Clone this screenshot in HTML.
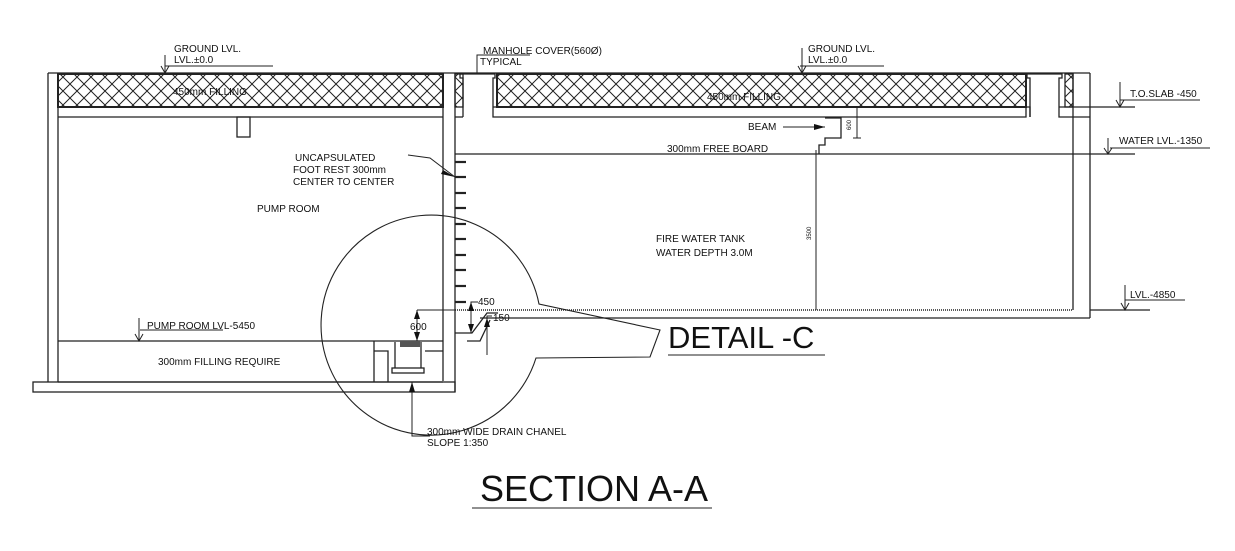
<!DOCTYPE html>
<html><head><style>
html,body{margin:0;padding:0;background:#fff;}
svg{display:block;}
text{font-family:"Liberation Sans",Arial,sans-serif;fill:#111;}
</style></head><body>
<svg width="1235" height="551" viewBox="0 0 1235 551" xmlns="http://www.w3.org/2000/svg">
<defs>
<pattern id="x" width="14" height="14" patternUnits="userSpaceOnUse">
<path d="M0 0L14 14M14 0L0 14" stroke="#222" stroke-width="1"/>
</pattern>
</defs>
<g stroke="#222" stroke-width="1.3" fill="none">
<line x1="48" y1="73" x2="1090" y2="73"/>
<rect x="58" y="74" width="385" height="33" fill="url(#x)" stroke-width="2"/>
<rect x="455" y="74" width="8" height="33" fill="url(#x)"/>
<rect x="497" y="74" width="529" height="33" fill="url(#x)" stroke-width="2"/>
<rect x="1065" y="74" width="8" height="33" fill="url(#x)"/>
<line x1="48" y1="73" x2="48" y2="382"/>
<line x1="58" y1="107" x2="58" y2="382"/>
<line x1="58" y1="117" x2="443" y2="117"/>
<line x1="58" y1="107" x2="443" y2="107"/>
<rect x="237" y="117" width="13" height="20"/>
<line x1="443" y1="73" x2="443" y2="381"/>
<line x1="455" y1="73" x2="455" y2="392"/>
<polyline points="463,117 463,78 460,78 460,74 495,74 495,78 493,78 493,117 497,117 1026,117 1026,107"/>
<line x1="455" y1="117" x2="463" y2="117"/>
<line x1="493" y1="107" x2="497" y2="107"/>
<polyline points="1026,107 1030,107 1030,117"/>
<polyline points="1030,117 1030,78 1027,78 1027,74 1062,74 1062,78 1059,78 1059,117 1090,117"/>
<line x1="1059" y1="107" x2="1090" y2="107"/>
<line x1="1073" y1="73" x2="1073" y2="310"/>
<line x1="1090" y1="73" x2="1090" y2="318"/>
<polyline points="825,118 841,118 841,138 825,138 825,145 819,145 819,154"/>
<line x1="857" y1="107" x2="857" y2="138" stroke-width="1"/>
<line x1="853" y1="138" x2="861" y2="138" stroke-width="1"/>
<line x1="455" y1="154" x2="1090" y2="154"/>
<line x1="816" y1="150" x2="816" y2="310" stroke-width="1"/>
<line x1="455" y1="310" x2="1073" y2="310" stroke-dasharray="1 1" stroke-width="1.6"/>
<line x1="480" y1="318" x2="1090" y2="318"/>
<line x1="58" y1="341" x2="443" y2="341"/>
<line x1="58" y1="382" x2="443" y2="382"/>
<rect x="33" y="382" width="422" height="10"/>
<polyline points="374,341 374,382"/><polyline points="374,351 388,351 388,382"/>
<polyline points="395,342 395,368"/><polyline points="421,342 421,368"/>
<rect x="392" y="368" width="32" height="5"/>
<line x1="425" y1="351" x2="443" y2="351"/>
<g stroke-width="2.2">
<line x1="455" y1="162" x2="466" y2="162"/><line x1="455" y1="177" x2="466" y2="177"/>
<line x1="455" y1="193" x2="466" y2="193"/><line x1="455" y1="208" x2="466" y2="208"/>
<line x1="455" y1="224" x2="466" y2="224"/><line x1="455" y1="239" x2="466" y2="239"/>
<line x1="455" y1="255" x2="466" y2="255"/><line x1="455" y1="270" x2="466" y2="270"/>
<line x1="455" y1="286" x2="466" y2="286"/><line x1="455" y1="302" x2="466" y2="302"/>
</g>
<polyline points="455,333 472,333 487,313 498,313"/>
<polyline points="467,341 480,341 490,320"/>
<polyline points="471,333 471,302 478,302" stroke-width="1"/>
<polyline points="487,355 487,316 492,316" stroke-width="1"/>
<polyline points="417,310 455,310" stroke-width="1"/>
<line x1="417" y1="310" x2="417" y2="341" stroke-width="1"/>
<path d="M539,304 A110,110 0 1 0 536,358 L650,357 L660,330 Z" stroke-width="1.1"/>
<!-- level markers -->
<line x1="165" y1="66" x2="273" y2="66" stroke-width="1"/>
<line x1="165" y1="55" x2="165" y2="73" stroke-width="1"/>
<line x1="800" y1="66" x2="884" y2="66" stroke-width="1"/>
<line x1="802" y1="48" x2="802" y2="73" stroke-width="1"/>
<polyline points="477,73 477,55 530,55" stroke-width="1"/>
<line x1="1120" y1="100" x2="1200" y2="100" stroke-width="1"/>
<line x1="1120" y1="82" x2="1120" y2="107" stroke-width="1"/>
<line x1="1090" y1="107" x2="1135" y2="107"/>
<line x1="1110" y1="148" x2="1210" y2="148" stroke-width="1"/>
<line x1="1108" y1="138" x2="1108" y2="154" stroke-width="1"/>
<line x1="1090" y1="154" x2="1135" y2="154"/>
<line x1="1125" y1="300" x2="1185" y2="300" stroke-width="1"/>
<line x1="1125" y1="285" x2="1125" y2="310" stroke-width="1"/>
<line x1="1090" y1="310" x2="1150" y2="310"/>
<line x1="140" y1="330" x2="223" y2="330" stroke-width="1"/>
<line x1="139" y1="318" x2="139" y2="341" stroke-width="1"/>
<line x1="783" y1="127" x2="825" y2="127" stroke-width="1"/>
<polyline points="408,155 430,158 455,177" stroke-width="1"/>
<polyline points="412,382 412,436 430,436" stroke-width="1"/>
<line x1="668" y1="355" x2="825" y2="355" stroke-width="1"/>
<line x1="472" y1="508" x2="712" y2="508" stroke-width="1"/>
</g>
<g fill="none" stroke="#222" stroke-width="1">
<path d="M161,66 L165,73 L169,66"/><path d="M798,66 L802,73 L806,66"/>
<path d="M1116,100 L1120,107 L1124,100"/><path d="M1104,148 L1108,154 L1112,148"/>
<path d="M1121,303 L1125,310 L1129,303"/><path d="M135,334 L139,341 L143,334"/>
</g>
<g fill="#111">
<path d="M825,127 L814,124 L814,130Z"/><path d="M455,177 L443,170 L441,174Z"/>
<path d="M412,382 L409,392 L415,392Z"/><path d="M417,310 L414,319 L420,319Z"/>
<path d="M417,341 L414,332 L420,332Z"/><path d="M471,302 L468,311 L474,311Z"/>
<path d="M471,333 L468,324 L474,324Z"/><path d="M487,318 L484,327 L490,327Z"/>
</g>
<rect x="400" y="341" width="20" height="6" fill="#555"/>
<g font-size="10">
<text x="174" y="52">GROUND LVL.</text><text x="174" y="63">LVL.±0.0</text>
<text x="808" y="52">GROUND LVL.</text><text x="808" y="63">LVL.±0.0</text>
<text x="483" y="54">MANHOLE COVER(560Ø)</text><text x="480" y="65">TYPICAL</text>
<text x="173" y="95">450mm FILLING</text><text x="707" y="100">450mm FILLING</text>
<text x="1130" y="97">T.O.SLAB -450</text>
<text x="1119" y="144">WATER LVL.-1350</text>
<text x="1130" y="298">LVL.-4850</text>
<text x="748" y="130">BEAM</text>
<text x="667" y="152">300mm FREE BOARD</text>
<text x="295" y="161">UNCAPSULATED</text><text x="293" y="173">FOOT REST  300mm</text><text x="293" y="185">CENTER TO CENTER</text>
<text x="257" y="212">PUMP ROOM</text>
<text x="656" y="242">FIRE WATER TANK</text><text x="656" y="256">WATER DEPTH 3.0M</text>
<text x="147" y="329">PUMP ROOM  LVL-5450</text>
<text x="158" y="365">300mm FILLING REQUIRE</text>
<text x="410" y="330">600</text><text x="478" y="305">450</text><text x="493" y="321">150</text>
<text x="427" y="435">300mm WIDE DRAIN CHANEL</text><text x="427" y="446">SLOPE 1:350</text>
</g>
<text x="668" y="348" font-size="31">DETAIL -C</text>
<text x="480" y="501" font-size="36">SECTION A-A</text>
<text x="811" y="240" font-size="6" transform="rotate(-90 811 240)">3500</text>
<text x="851" y="130" font-size="6" transform="rotate(-90 851 130)">600</text>
</svg>
</body></html>
